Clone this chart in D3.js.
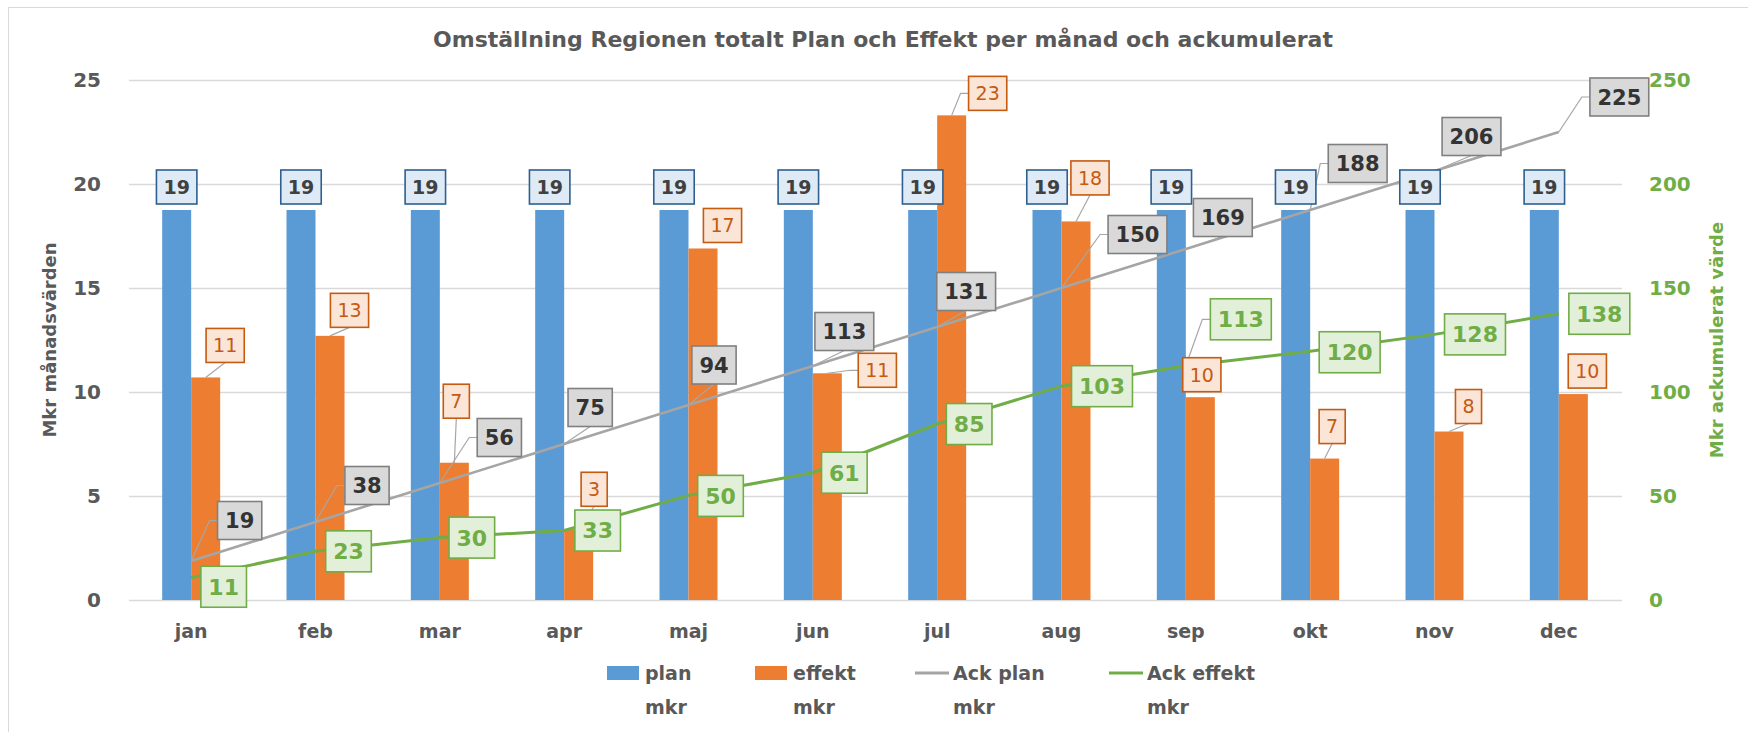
<!DOCTYPE html>
<html lang="sv">
<head>
<meta charset="utf-8">
<title>Omställning Regionen</title>
<script src="https://d3js.org/d3.v7.min.js"></script>
<style>
  body { margin: 0; background: #fff; }
  text { font-family: "DejaVu Sans", sans-serif; }
</style>
</head>
<body>
<svg width="1748" height="732"></svg>
<script>
// data
const months = ["jan", "feb", "mar", "apr", "maj", "jun", "jul", "aug", "sep", "okt", "nov", "dec"];
const planMkr = [18.75, 18.75, 18.75, 18.75, 18.75, 18.75, 18.75, 18.75, 18.75, 18.75, 18.75, 18.75];
const effektMkr = [10.7, 12.7, 6.6, 3.4, 16.9, 10.9, 23.3, 18.2, 9.75, 6.8, 8.1, 9.9];
const ackPlan = [18.75, 37.5, 56.25, 75, 93.75, 112.5, 131.25, 150, 168.75, 187.5, 206.25, 225];
const ackEffekt = [10.7, 23.4, 30.0, 33.4, 50.3, 61.2, 84.6, 102.8, 112.6, 119.6, 127.7, 137.6];
const leftTicks = [0, 5, 10, 15, 20, 25];
const rightTicks = [0, 50, 100, 150, 200, 250];
const seriesNames = [["plan", "mkr"], ["effekt", "mkr"], ["Ack plan", "mkr"], ["Ack effekt", "mkr"]];

// where each data label was dragged to (box centre relative to its point)
const offEffekt = [[19.5,-32],[19.5,-25.5],[2,-61.5],[15.5,-40],[19.5,-23],[50,-3],[36,-22],[14,-43.5],[1.5,-22.5],[7.5,-32],[19.5,-25],[14,-23]];
const offAckPlan = [[48.5,-40.5],[51.5,-36.5],[59.5,-45.5],[26,-36.5],[25.5,-40],[31.5,-34.5],[29,-35.5],[76,-53.5],[37,-31.5],[47.5,-46.5],[37,-34.5],[60.5,-35]];
const offAckEffekt = [[32.5,9],[33,0],[32,0],[33.5,0],[32,0.5],[31.5,0],[32,0],[40.5,0],[55,-46.5],[39.5,1],[40.5,0],[40.5,0]];

const blue = "#5B9BD5", orange = "#ED7D31", grey = "#A5A5A5", green = "#70AD47";

const svg = d3.select("svg");

// chart frame
svg.append("rect").attr("x", 8.5).attr("y", 7.5).attr("width", 1760).attr("height", 740)
  .attr("fill", "none").attr("stroke", "#D9D9D9");

const x = d3.scaleBand().domain(months).range([129, 1621]);
const xc = m => x(m) + x.bandwidth() / 2;
const xBar = d3.scaleBand().domain(["plan", "effekt"]).range([-29, 29]);
const yL = d3.scaleLinear().domain([0, 25]).range([600, 80]);
const yR = d3.scaleLinear().domain([0, 250]).range([600, 80]);

// title
svg.append("text").attr("x", 883).attr("y", 39).attr("dy", "0.35em")
  .attr("text-anchor", "middle").attr("font-size", 22).attr("font-weight", "bold")
  .attr("fill", "#595959")
  .text("Omställning Regionen totalt Plan och Effekt per månad och ackumulerat");

// gridlines
svg.append("g").selectAll("line").data(leftTicks).join("line")
  .attr("x1", 129).attr("x2", 1622)
  .attr("y1", d => Math.round(yL(d)) + 0.5).attr("y2", d => Math.round(yL(d)) + 0.5)
  .attr("stroke", "#D9D9D9").attr("stroke-width", 1.3);

// left axis
svg.append("g").selectAll("text").data(leftTicks).join("text")
  .attr("x", 101).attr("y", d => yL(d)).attr("dy", "0.35em")
  .attr("text-anchor", "end").attr("font-size", 20).attr("font-weight", "bold")
  .attr("fill", "#595959").text(d => d);

// right axis
svg.append("g").selectAll("text").data(rightTicks).join("text")
  .attr("x", 1649).attr("y", d => yR(d)).attr("dy", "0.35em")
  .attr("font-size", 20).attr("font-weight", "bold")
  .attr("fill", green).text(d => d);

// axis titles
svg.append("text").attr("transform", "translate(50,340) rotate(-90)").attr("dy", "0.35em")
  .attr("text-anchor", "middle").attr("font-size", 18).attr("font-weight", "bold")
  .attr("fill", "#595959").text("Mkr månadsvärden");
svg.append("text").attr("transform", "translate(1717,340) rotate(-90)").attr("dy", "0.35em")
  .attr("text-anchor", "middle").attr("font-size", 18).attr("font-weight", "bold")
  .attr("fill", green).text("Mkr ackumulerat värde");

// month labels
svg.append("g").selectAll("text").data(months).join("text")
  .attr("x", d => xc(d)).attr("y", 631).attr("dy", "0.35em")
  .attr("text-anchor", "middle").attr("font-size", 19).attr("font-weight", "bold")
  .attr("fill", "#595959").text(d => d);

// bars
svg.append("g").selectAll("rect").data(months).join("rect")
  .attr("x", d => xc(d) + xBar("plan")).attr("width", xBar.bandwidth())
  .attr("y", (d, i) => yL(planMkr[i])).attr("height", (d, i) => yL(0) - yL(planMkr[i]))
  .attr("fill", blue);
svg.append("g").selectAll("rect").data(months).join("rect")
  .attr("x", d => xc(d) + xBar("effekt")).attr("width", xBar.bandwidth())
  .attr("y", (d, i) => yL(effektMkr[i])).attr("height", (d, i) => yL(0) - yL(effektMkr[i]))
  .attr("fill", orange);

// cumulative lines
const line = d3.line().x(d => xc(d[0])).y(d => yR(d[1]));
svg.append("path").datum(months.map((m, i) => [m, ackPlan[i]]))
  .attr("d", line).attr("fill", "none").attr("stroke", grey).attr("stroke-width", 2.6);
svg.append("path").datum(months.map((m, i) => [m, ackEffekt[i]]))
  .attr("d", line).attr("fill", "none").attr("stroke", green).attr("stroke-width", 3);

const leaders = svg.append("g");
const labels = svg.append("g");

function addLabels(items, st) {
  items.forEach(it => {
    const cx = it.px + it.dx, cy = it.py + it.dy;
    const g = labels.append("g").attr("transform", `translate(${cx},${cy})`);
    const rect = g.append("rect");
    const t = g.append("text").attr("text-anchor", "middle").attr("dy", "0.36em")
      .attr("font-size", st.size).attr("font-weight", st.weight).attr("fill", st.color)
      .text(it.text);
    const w = t.node().getComputedTextLength() + st.pad * 2, h = st.h;
    rect.attr("x", -w / 2).attr("y", -h / 2).attr("width", w).attr("height", h)
      .attr("fill", st.fill).attr("stroke", st.stroke).attr("stroke-width", 1.6);

    // leader line like Excel draws for moved labels
    const L = cx - w / 2, R = cx + w / 2, T = cy - h / 2, B = cy + h / 2;
    const gapY = it.py > B ? it.py - B : (it.py < T ? T - it.py : 0);
    const gapX = it.px < L ? L - it.px : (it.px > R ? it.px - R : 0);
    if (gapY <= 7 && gapX <= 12) return;
    let pts;
    if (it.px >= L - 8 && it.px <= R + 8) {
      pts = [[it.px, it.py], [cx, it.py > cy ? B : T]];
    } else if (it.px < L) {
      pts = [[it.px, it.py], [Math.max(it.px, L - 8), cy], [L, cy]];
    } else {
      pts = [[it.px, it.py], [Math.min(it.px, R + 8), cy], [R, cy]];
    }
    leaders.append("path").attr("d", d3.line()(pts))
      .attr("fill", "none").attr("stroke", "#A6A6A6").attr("stroke-width", 1.2);
  });
}

addLabels(months.map((m, i) => ({
  px: xc(m) + xBar("plan") + xBar.bandwidth() / 2, py: yL(planMkr[i]),
  dx: 0, dy: -23, text: Math.round(planMkr[i])
})), { size: 19, weight: "bold", color: "#404040", fill: "#DEEBF7", stroke: "#2E5F8E", pad: 7, h: 34 });

addLabels(months.map((m, i) => ({
  px: xc(m) + xBar("effekt") + xBar.bandwidth() / 2, py: yL(effektMkr[i]),
  dx: offEffekt[i][0], dy: offEffekt[i][1], text: Math.round(effektMkr[i])
})), { size: 19, weight: "normal", color: "#C55A11", fill: "#FBE5D6", stroke: "#C55A11", pad: 7, h: 34 });

addLabels(months.map((m, i) => ({
  px: xc(m), py: yR(ackPlan[i]),
  dx: offAckPlan[i][0], dy: offAckPlan[i][1], text: Math.round(ackPlan[i])
})), { size: 21, weight: "bold", color: "#333333", fill: "#D9D9D9", stroke: "#808080", pad: 7.5, h: 38 });

addLabels(months.map((m, i) => ({
  px: xc(m), py: yR(ackEffekt[i]),
  dx: offAckEffekt[i][0], dy: offAckEffekt[i][1], text: Math.round(ackEffekt[i])
})), { size: 22, weight: "bold", color: green, fill: "#E2F0D9", stroke: green, pad: 7.5, h: 41 });

// legend
const legendX = [607, 755, 915, 1109];
const legend = svg.append("g");
seriesNames.forEach((nm, i) => {
  const lx = legendX[i];
  if (i < 2) {
    legend.append("rect").attr("x", lx).attr("y", 666).attr("width", 32).attr("height", 14)
      .attr("fill", i === 0 ? blue : orange);
  } else {
    legend.append("line").attr("x1", lx).attr("x2", lx + 34).attr("y1", 673).attr("y2", 673)
      .attr("stroke", i === 2 ? grey : green).attr("stroke-width", 3);
  }
  nm.forEach((s, j) => {
    legend.append("text").attr("x", lx + 38).attr("y", 673 + j * 34).attr("dy", "0.35em")
      .attr("font-size", 19).attr("font-weight", "bold").attr("fill", "#595959").text(s);
  });
});
</script>
</body>
</html>
